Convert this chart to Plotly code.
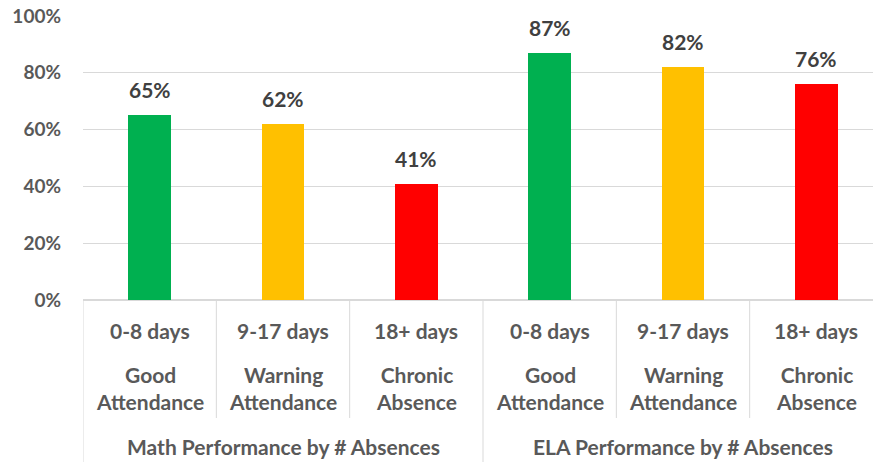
import plotly.graph_objects as go

days = ["0-8 days", "9-17 days", "18+ days", "0-8 days", "9-17 days", "18+ days"]
status = ["Good<br>Attendance", "Warning<br>Attendance", "Chronic<br>Absence",
          "Good<br>Attendance", "Warning<br>Attendance", "Chronic<br>Absence"]
groups = ["Math Performance by # Absences", "ELA Performance by # Absences"]
values = [0.65, 0.62, 0.41, 0.87, 0.82, 0.76]
colors = ["#00B050", "#FFC000", "#FF0000", "#00B050", "#FFC000", "#FF0000"]
labels = ["65%", "62%", "41%", "87%", "82%", "76%"]

xs = list(range(len(values)))
FONT = "Lato"
GRAY = "#595959"

fig = go.Figure()
fig.add_trace(go.Bar(x=xs, y=values, marker=dict(color=colors, line=dict(width=0)),
                     width=0.32, hoverinfo="skip"))

ann = []
for x, v, t in zip(xs, values, labels):
    ann.append(dict(x=x, y=v, xref="x", yref="y", text=t, showarrow=False,
                    yanchor="bottom", yshift=11,
                    font=dict(family=FONT, size=21, color="#404040", weight="bold")))
H = 462
top, bottom = 16, 300
def py(pix):
    return (bottom - pix) / (bottom - top)
for x, d, s in zip(xs, days, status):
    ann.append(dict(x=x, y=py(330), xref="x", yref="paper", text=d, showarrow=False,
                    yanchor="middle", font=dict(family=FONT, size=21, color=GRAY, weight="bold")))
    ann.append(dict(x=x, y=py(388), xref="x", yref="paper", text=s, showarrow=False,
                    yanchor="middle", font=dict(family=FONT, size=21, color=GRAY, weight="bold")))
for gi, g in enumerate(groups):
    ann.append(dict(x=gi * 3 + 1, y=py(446), xref="x", yref="paper", text=g, showarrow=False,
                    yanchor="middle", font=dict(family=FONT, size=21, color=GRAY, weight="bold")))

shapes = []
for k in range(len(values) + 1):
    xb = k - 0.5
    y1 = py(H) if k % 3 == 0 else py(418)
    shapes.append(dict(type="line", xref="x", yref="paper", x0=xb, x1=xb, y0=0, y1=y1,
                       line=dict(color="#d9d9d9", width=1)))

fig.update_layout(
    width=873, height=462,
    margin=dict(l=83, r=0, t=top, b=H - bottom, pad=0),
    plot_bgcolor="white", paper_bgcolor="white",
    showlegend=False, bargap=0,
    annotations=ann, shapes=shapes,
    xaxis=dict(range=[-0.5, 5.425], showticklabels=False, showgrid=False, zeroline=False,
               showline=False, fixedrange=True, automargin=False),
    yaxis=dict(range=[0, 1], dtick=0.2, tickformat=".0%", showgrid=True, gridcolor="#d9d9d9",
               gridwidth=1, zeroline=True, zerolinecolor="#d9d9d9", showline=False,
               ticks="", ticklabelstandoff=21, automargin=False, fixedrange=True,
               tickfont=dict(family=FONT, size=19, color=GRAY, weight="bold")),
)
fig.write_html("out.html", config={"displayModeBar": False},
               post_script="document.body.style.margin='0px';")
